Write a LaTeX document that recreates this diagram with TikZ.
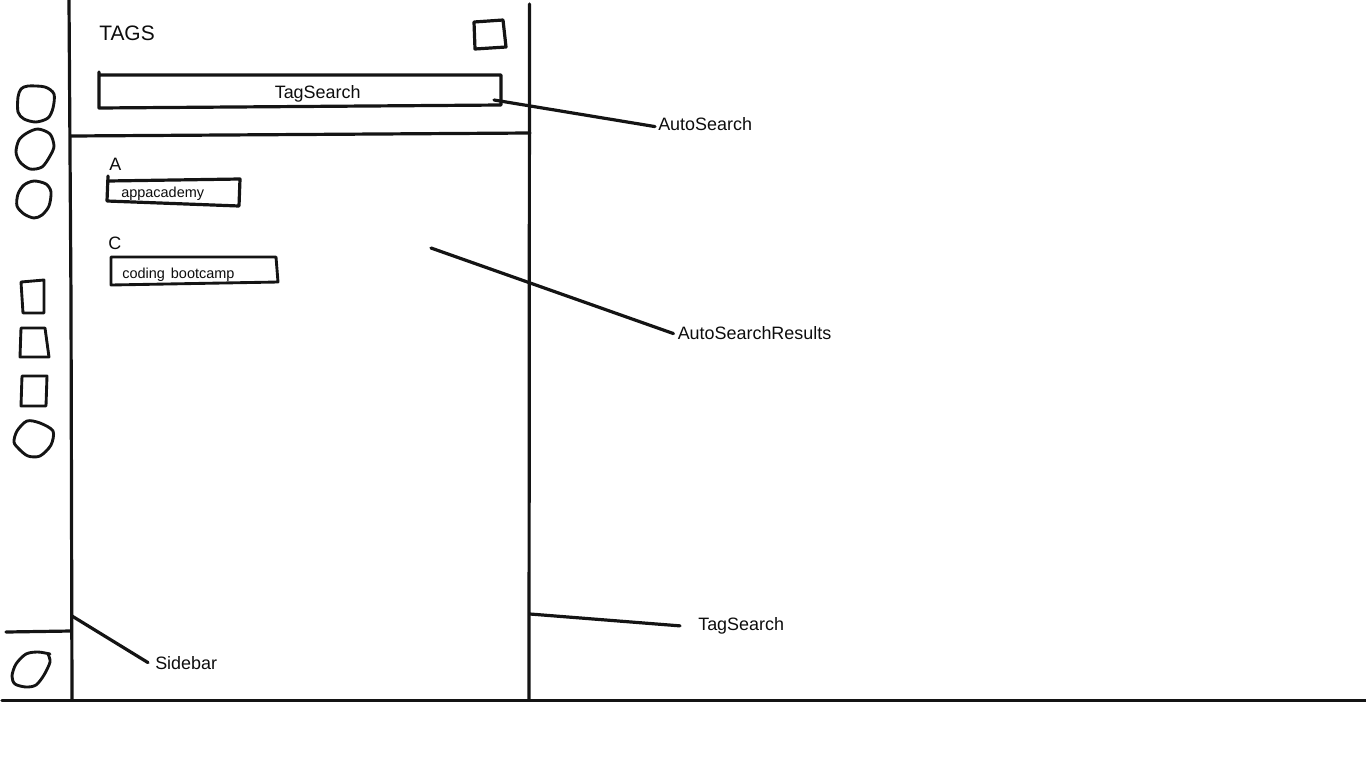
\documentclass[tikz,border=0pt]{standalone}
\usepackage{fontspec}
\setmainfont{Liberation Sans}
\tikzset{
  ink/.style={draw=black!92,line width=2.4pt,line join=round,line cap=round},
  thin ink/.style={draw=black!92,line width=2.15pt,line join=round,line cap=round},
  lbl/.style={inner sep=0pt,anchor=base west,font=\fontsize{13.45pt}{15pt}\selectfont,text=black!95},
  small lbl/.style={inner sep=0pt,anchor=base west,font=\fontsize{10.85pt}{13pt}\selectfont,text=black!95},
  big lbl/.style={inner sep=0pt,anchor=base west,font=\fontsize{15.7pt}{18pt}\selectfont,text=black!95}
}
\begin{document}
\begin{tikzpicture}[x=0.75pt,y=-0.75pt]
\useasboundingbox (0,0) rectangle (1366,768);
% frame lines
\draw[ink] (69,0) -- (71,300) -- (72,700);
\draw[ink] (529.5,4) -- (529,700);
\draw[ink] (2,700.5) -- (1366,700.5);
\draw[ink] (71,136) -- (530,133);
\draw[ink] (6,632) -- (71,631);
% texts
\node[big lbl] (tags) at (99,40) {TAGS};
\node[lbl] (searchtext) at (274.5,98.5) {TagSearch};
\node[lbl] (letterA) at (109,170.5) {A};
\node[small lbl] (app) at (121,197) {appacademy};
\node[lbl] (letterC) at (108,249) {C};
\node[small lbl] (coding) at (122,278) {coding\hspace{0.42em}bootcamp};
\node[lbl] (autosearch) at (658,130.5) {AutoSearch};
\node[lbl] (results) at (677.5,339) {AutoSearchResults};
\node[lbl] (tagsearch) at (698,630) {TagSearch};
\node[lbl] (sidebar) at (155,669) {Sidebar};
% boxes
\draw[ink] (474,22) -- (503,20) -- (506,47) -- (475,49) -- cycle;
\draw[ink] (99,72) -- (99,108) -- (501,105) -- (501,75) -- (99,75);
\draw[ink] (108,176) -- (107,201) -- (239,206) -- (240,179) -- (108,181);
\draw[thin ink] (111,257) -- (111,285) -- (278,282) -- (276,257) -- cycle;
% sidebar icons
\draw[thin ink] plot[smooth cycle,tension=0.5] coordinates {(28,86) (45,87) (54,94) (53,108) (48,118) (36,122) (24,119) (18,112) (18,97) (21,89)};
\draw[thin ink] plot[smooth cycle,tension=0.5] coordinates {(38,129) (50,134) (54,146) (50,156) (42,167) (30,169) (20,162) (16,152) (19,140) (27,133)};
\draw[thin ink] plot[smooth cycle,tension=0.5] coordinates {(34,181) (46,184) (51,192) (49,206) (42,215) (34,218) (24,214) (17,206) (18,194) (24,185)};
\draw[thin ink] (21,282) -- (44,280) -- (44,313) -- (23,313) -- cycle;
\draw[thin ink] (21,328) -- (45,328) -- (49,357) -- (20,357) -- cycle;
\draw[thin ink] (22,376) -- (47,376) -- (46,406) -- (21,406) -- cycle;
\draw[thin ink] plot[smooth cycle,tension=0.5] coordinates {(27,421) (40,423) (53,431) (51,445) (40,456) (28,456) (19,449) (14,442) (17,431)};
\draw[thin ink] plot[smooth,tension=0.5] coordinates {(50,654) (38,652) (26,654) (16,664) (12,676) (15,684) (26,687) (36,685) (44,675) (50,662) (48,654)};
% connectors
\coordinate (a1) at (494,100);
\coordinate (r1) at (431,248);
\coordinate (t1) at (530,614);
\coordinate (s1) at (72,616);
\draw[ink] (a1) -- ([shift={(-3,2.5)}]autosearch.west);
\draw[ink] (r1) -- ([shift={(-4,1)}]results.west);
\draw[ink] (t1) -- ([shift={(-18,0.5)}]tagsearch.west);
\draw[ink] (s1) -- ([shift={(-7,0)}]sidebar.west);
\end{tikzpicture}
\end{document}
